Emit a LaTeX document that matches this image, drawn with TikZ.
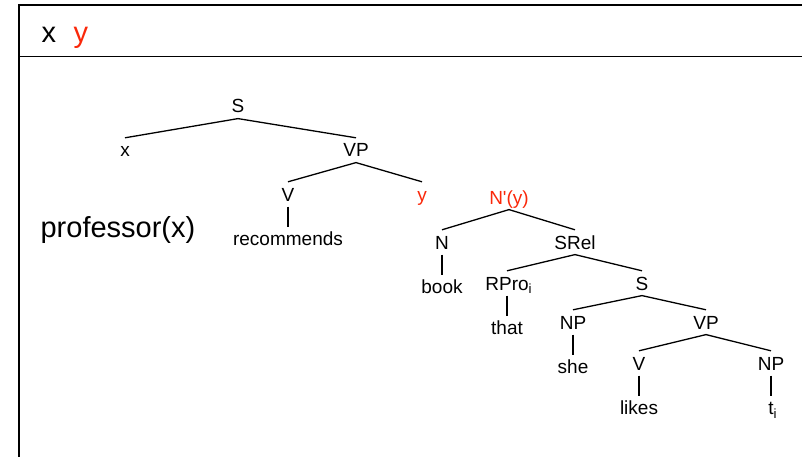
\documentclass[tikz,border=0pt]{standalone}
\usepackage{fontspec}
\setmainfont{Liberation Sans}
\usepackage{xcolor}
\usepackage{tikz}
\usetikzlibrary{positioning}
\definecolor{varred}{RGB}{250,40,10}

\begin{document}
\begin{tikzpicture}[x=1pt, y=-1pt, node distance={20pt}, line width=1.2pt,
    lbl/.style = {font=\fontsize{19}{22}\selectfont, inner sep=5pt, text height=13.6pt, text depth=0pt, anchor=base},
    big/.style = {font=\fontsize{29}{34}\selectfont, inner sep=0pt, anchor=base west},
    var/.style = {text=varred}]
		\useasboundingbox (0,0) rectangle (802,457);
		\draw[line width=1.5pt] (19,5) rectangle (830,480);
		\draw[line width=1.5pt] (19,56.5) -- (830,56.5);
		
		\node[big] (hx) at (41,43) {x};
		\node[big, var] (hy) at (73,43) {y};
		\node[big] (prof) at (40,237) {professor(x)};
		
		\node[lbl] (s) at (238,113) {S};
		\node[lbl] (x) at (125,157) {x};
		\node[lbl] (vp) at (356,157) {VP};
		\node[lbl] (v) at (288,201) {V};
		\node[lbl] (rec) [below = of v] {recommends};
		\node[lbl, var] (y) at (422,201) {y};
		\node[lbl, var] (nbar) at (509,204) {N\textquotesingle(y)};
		\node[lbl] (n) at (442,249) {N};
		\node[lbl] (book) [below = of n] {book};
		\node[lbl] (srel) at (575,249) {SRel};
		\node[lbl] (rpro) at (507,290) {RPro\rlap{\textsubscript{i}}};
		\node[lbl] (that) [below = of rpro] {that};
		\node[lbl] (s2) at (642,290) {S};
		\node[lbl] (np) at (573,329) {NP};
		\node[lbl] (she) [below = of np] {she};
		\node[lbl] (vp2) at (706,329) {VP};
		\node[lbl] (v2) at (639,370) {V};
		\node[lbl] (likes) [below = of v2] {likes};
		\node[lbl] (np2) at (771,370) {NP};
		\node[lbl] (ti) [below = of np2] {t\rlap{\textsubscript{i}}};
		
		\begin{scope}[line width=1.3pt]
			\draw (s.south) -- (x.north);
			\draw (s.south) -- (vp.north);
			\draw (vp.south) -- (v.north);
			\draw (vp.south) -- (y.north);
			\draw (v.south) -- (rec.north);
			\draw (nbar.south) -- (n.north);
			\draw (nbar.south) -- (srel.north);
			\draw (n.south) -- (book.north);
			\draw (srel.south) -- (rpro.north);
			\draw (srel.south) -- (s2.north);
			\draw (rpro.south) -- (that.north);
			\draw (s2.south) -- (np.north);
			\draw (s2.south) -- (vp2.north);
			\draw (np.south) -- (she.north);
			\draw (vp2.south) -- (v2.north);
			\draw (vp2.south) -- (np2.north);
			\draw (v2.south) -- (likes.north);
			\draw (np2.south) -- (ti.north);
		\end{scope}
	\end{tikzpicture}
\end{document}
